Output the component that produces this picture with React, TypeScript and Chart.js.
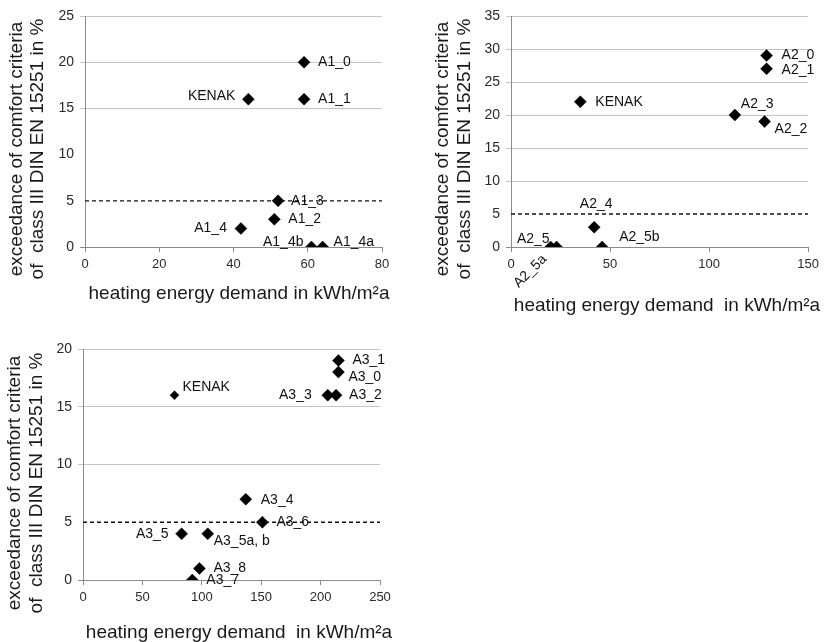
import React, { useEffect, useRef } from "react";
import { Chart, registerables } from "chart.js";

Chart.register(...registerables);

// ---------- DATA ----------
// Panel A1
const a1Names = ["A1_0", "A1_1", "KENAK", "A1_3", "A1_2", "A1_4", "A1_4b", "A1_4a"];
const a1X = [59, 59, 44, 52, 51, 42, 61, 64];
const a1Y = [20, 16, 16, 5, 3, 2, 0, 0];
const a1XTicks = [0, 20, 40, 60, 80];
const a1YTicks = [0, 5, 10, 15, 20, 25];

// Panel A2
const a2Names = ["A2_0", "A2_1", "KENAK", "A2_3", "A2_2", "A2_4", "A2_5b", "A2_5", "A2_5a"];
const a2X = [129, 129, 35, 113, 128, 42, 46, 20, 23];
const a2Y = [29, 27, 22, 20, 19, 3, 0, 0, 0];
const a2XTicks = [0, 50, 100, 150];
const a2YTicks = [0, 5, 10, 15, 20, 25, 30, 35];

// Panel A3
const a3Names = ["A3_1", "A3_0", "A3_3", "A3_2", "KENAK", "A3_4", "A3_6", "A3_5", "A3_5a, b", "A3_8", "A3_7"];
const a3X = [215, 215, 206, 213, 77, 137, 151, 83, 105, 98, 92];
const a3Y = [19, 18, 16, 16, 16, 7, 5, 4, 4, 1, 0];
const a3XTicks = [0, 50, 100, 150, 200, 250];
const a3YTicks = [0, 5, 10, 15, 20];

const thresholdValue = 5;

const yTitleLines = ["exceedance of comfort criteria", "of  class III DIN EN 15251 in %"];
const xTitle1 = "heating energy demand in kWh/m\u00B2a";
const xTitle2 = "heating energy demand  in kWh/m\u00B2a";

// ---------- STYLE / PLACEMENT (not data) ----------
// label placement per point: [dx, dy, align, rotationDeg]
type Place = [number, number, CanvasTextAlign, number];
const a1Place: Place[] = [
  [14, 0, "left", 0], [14, 0, "left", 0], [-13, -3, "right", 0], [13, 0, "left", 0],
  [14, 0, "left", 0], [-14, 0, "right", 0], [-8, -5, "right", 0], [11, -5, "left", 0],
];
const a2Place: Place[] = [
  [15, 0, "left", 0], [15, 1, "left", 0], [15, 0, "left", 0], [6, -11, "left", 0],
  [10, 8, "left", 0], [2, -23, "center", 0], [17, -10, "left", 0], [-1, -8, "right", 0],
  [-12, 10, "right", -45],
];
const a3Place: Place[] = [
  [14, 0, "left", 0], [10, 5, "left", 0], [-16, 0, "right", 0], [13, 0, "left", 0],
  [8, -8, "left", 0], [15, 1, "left", 0], [14, 0, "left", 0], [-13, 0, "right", 0],
  [6, 7, "left", 0], [14, 0, "left", 0], [14, 0, "left", 0],
];
const a3Radius = [6, 6, 6, 6, 4.5, 6, 6, 6, 6, 6, 6];

const FONT = "'Liberation Sans', Arial, sans-serif";

interface PanelProps {
  left: number; top: number; width: number; height: number;
  area: { l: number; r: number; t: number; b: number };
  names: string[]; xs: number[]; ys: number[];
  xTicks: number[]; yTicks: number[];
  place: Place[]; radius?: number[];
  xTitle: string; xTitlePos: [number, number];
  yTitleX: [number, number]; yTitleCenter: number;
  hideGrid: number[];
}

function Panel(p: PanelProps) {
  const ref = useRef<HTMLCanvasElement | null>(null);
  useEffect(() => {
    if (!ref.current) return;
    const xMin = p.xTicks[0], xMax = p.xTicks[p.xTicks.length - 1];
    const yMin = p.yTicks[0], yMax = p.yTicks[p.yTicks.length - 1];
    const xStep = p.xTicks[1] - p.xTicks[0];
    const yStep = p.yTicks[1] - p.yTicks[0];

    const labelPlugin = {
      id: "labels",
      afterDatasetsDraw(chart: any) {
        const ctx = chart.ctx as CanvasRenderingContext2D;
        const xs = chart.scales.x, ys = chart.scales.y;
        ctx.save();
        ctx.fillStyle = "#111";
        ctx.font = `14px ${FONT}`;
        ctx.textBaseline = "middle";
        p.names.forEach((n, i) => {
          const px = xs.getPixelForValue(p.xs[i]);
          const py = ys.getPixelForValue(p.ys[i]);
          const [dx, dy, al, rot] = p.place[i];
          ctx.save();
          ctx.translate(px + dx, py + dy);
          ctx.rotate((rot * Math.PI) / 180);
          ctx.textAlign = al;
          ctx.fillText(n, 0, 0);
          ctx.restore();
        });
        // axis titles
        ctx.fillStyle = "#1a1a1a";
        ctx.font = `19px ${FONT}`;
        ctx.textAlign = "center";
        ctx.textBaseline = "alphabetic";
        ctx.fillText(p.xTitle, p.xTitlePos[0], p.xTitlePos[1]);
        ctx.textBaseline = "middle";
        yTitleLines.forEach((line, k) => {
          ctx.save();
          ctx.translate(p.yTitleX[k], p.yTitleCenter);
          ctx.rotate(-Math.PI / 2);
          ctx.fillText(line, 0, 0);
          ctx.restore();
        });
        ctx.restore();
      },
    };

    const chart = new Chart(ref.current, {
      type: "scatter",
      data: {
        datasets: [
          {
            type: "line",
            data: [
              { x: xMin, y: thresholdValue },
              { x: xMax, y: thresholdValue },
            ],
            borderColor: "#111",
            borderWidth: 1.3,
            borderDash: [4, 3],
            pointRadius: 0,
            fill: false,
          } as any,
          {
            data: p.xs.map((x, i) => ({ x, y: p.ys[i] })),
            pointStyle: "rectRot",
            pointRadius: p.radius ?? p.xs.map(() => 6),
            backgroundColor: "#000",
            borderColor: "#000",
            borderWidth: 0.5,
          },
        ],
      },
      options: {
        animation: false,
        responsive: false,
        maintainAspectRatio: false,
        events: [],
        layout: {
          padding: { left: 0, top: p.area.t, right: p.width - p.area.r, bottom: 0 },
        },
        plugins: { legend: { display: false }, tooltip: { enabled: false }, title: { display: false } },
        scales: {
          x: {
            type: "linear",
            min: xMin,
            max: xMax,
            afterFit: (s: any) => { s.height = p.height - p.area.b; },
            ticks: { stepSize: xStep, color: "#2a2a2a", font: { family: FONT, size: 13 }, padding: 5 },
            grid: { drawOnChartArea: false, drawTicks: true, tickLength: 5, color: "#8c8c8c" },
            border: { color: "#8c8c8c", width: 1 },
          },
          y: {
            type: "linear",
            min: yMin,
            max: yMax,
            afterFit: (s: any) => { s.width = p.area.l; },
            ticks: { stepSize: yStep, color: "#2a2a2a", font: { family: FONT, size: 14 }, padding: 6 },
            grid: {
              drawTicks: true,
              tickLength: 5,
              color: (c: any) => {
                const v = c.tick ? c.tick.value : null;
                if (v === 0) return "#8c8c8c";
                if (v !== null && p.hideGrid.includes(v)) return "rgba(0,0,0,0)";
                return "#c4c4c4";
              },
            },
            border: { color: "#8c8c8c", width: 1 },
          },
        },
      } as any,
      plugins: [labelPlugin],
    });
    return () => chart.destroy();
  }, []);
  return (
    <canvas
      ref={ref}
      width={p.width}
      height={p.height}
      style={{ position: "absolute", left: p.left, top: p.top, width: p.width, height: p.height }}
    />
  );
}

export default function App() {
  return (
    <div style={{ position: "fixed", left: 0, top: 0, width: 824, height: 642, background: "#fff" }}>
      <Panel
        left={0} top={0} width={410} height={320}
        area={{ l: 85, r: 382, t: 16, b: 247 }}
        names={a1Names} xs={a1X} ys={a1Y}
        xTicks={a1XTicks} yTicks={a1YTicks}
        place={a1Place}
        xTitle={xTitle1} xTitlePos={[239, 299]}
        yTitleX={[17, 38]} yTitleCenter={149}
        hideGrid={[5, 10]}
      />
      <Panel
        left={410} top={0} width={414} height={320}
        area={{ l: 101, r: 399, t: 16, b: 247 }}
        names={a2Names} xs={a2X} ys={a2Y}
        xTicks={a2XTicks} yTicks={a2YTicks}
        place={a2Place}
        xTitle={xTitle2} xTitlePos={[257, 311]}
        yTitleX={[33, 55]} yTitleCenter={149}
        hideGrid={[5]}
      />
      <Panel
        left={0} top={320} width={420} height={322}
        area={{ l: 83, r: 380, t: 29, b: 260 }}
        names={a3Names} xs={a3X} ys={a3Y}
        xTicks={a3XTicks} yTicks={a3YTicks}
        place={a3Place} radius={a3Radius}
        xTitle={xTitle2} xTitlePos={[239, 318]}
        yTitleX={[15, 37]} yTitleCenter={163}
        hideGrid={[5]}
      />
    </div>
  );
}
